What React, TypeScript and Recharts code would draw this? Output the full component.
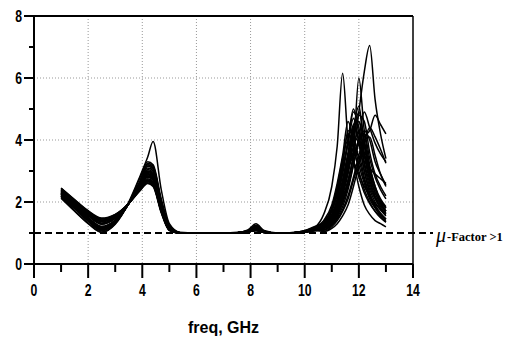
import React from 'react';
import { LineChart, Line, XAxis, YAxis, ReferenceLine, CartesianGrid } from 'recharts';

// frequency sample points (GHz)
const freq = [1, 1.5, 2, 2.5, 3, 3.5, 3.9, 4.2, 4.4, 4.7, 5.0, 5.4, 6.5, 7.5, 7.9, 8.2, 8.5, 9.0, 9.6, 10.0, 10.4,
  10.7, 11.0, 11.2, 11.4, 11.6, 11.8, 12.0, 12.2, 12.4, 12.6, 12.8, 13.0];

// Monte-Carlo runs of the mu stability factor
const runs: number[][] = [
  [2.15,1.72,1.32,1.03,1.3,2.0,2.8,3.45,3.95,2.4,1.3,1.02,1.0,1.02,1.1,1.3,1.08,1.0,1.02,1.08,1.22, 1.3,1.45,1.7,2.1,2.7,3.5,4.9,6.2,7.05,5.3,4.2,3.4],
  [2.2,1.8,1.4,1.1,1.35,1.95,2.6,3.2,3.1,2.0,1.2,1.01,1.0,1.01,1.06,1.2,1.05,1.0,1.01,1.06,1.2, 1.6,2.5,3.8,6.15,4.0,3.3,2.9,2.5,2.2,1.95,1.75,1.6],
  [2.3,1.9,1.5,1.2,1.4,1.95,2.5,2.95,2.85,1.9,1.15,1.0,1.0,1.01,1.05,1.15,1.04,1.0,1.01,1.04,1.12, 1.15,1.3,1.6,2.0,2.6,3.6,6.0,4.3,3.2,2.5,2.0,1.7],
  [2.35,1.98,1.6,1.32,1.5,1.95,2.45,2.8,2.7,1.8,1.12,1.0,1.0,1.0,1.04,1.12,1.03,1.0,1.0,1.03,1.1, 1.1,1.25,1.45,1.75,2.2,2.8,3.5,4.1,4.3,4.8,4.5,4.2],
  [2.45,2.08,1.72,1.48,1.6,1.95,2.35,2.6,2.5,1.65,1.08,1.0,1.0,1.0,1.03,1.08,1.02,1.0,1.0,1.03,1.08, 1.1,1.25,1.5,1.85,2.4,3.2,4.1,4.9,4.4,3.9,3.55,3.3],
  [2.25,1.85,1.45,1.15,1.38,1.95,2.55,3.05,2.95,1.95,1.18,1.0,1.0,1.01,1.05,1.18,1.04,1.0,1.01,1.05,1.13, 1.3,1.7,2.2,3.0,4.0,5.0,4.2,3.2,2.5,2.1,1.8,1.6],
  [2.4,2.02,1.65,1.4,1.55,1.96,2.4,2.7,2.6,1.7,1.1,1.0,1.0,1.0,1.03,1.1,1.02,1.0,1.0,1.03,1.1, 1.25,1.6,2.0,2.7,3.6,4.5,4.6,3.5,2.7,2.2,1.9,1.7],
  [2.18,1.78,1.38,1.08,1.33,1.95,2.62,3.1,3.0,2.0,1.2,1.01,1.0,1.01,1.06,1.22,1.05,1.0,1.01,1.05,1.15, 1.2,1.5,1.9,2.5,3.3,4.1,3.9,3.0,2.3,1.9,1.65,1.45],
  [2.28,1.88,1.48,1.18,1.4,1.96,2.52,2.9,2.8,1.85,1.15,1.0,1.0,1.01,1.05,1.14,1.04,1.0,1.01,1.05,1.15, 1.35,1.8,2.4,3.3,4.2,3.8,3.0,2.4,2.0,1.7,1.5,1.35],
  [2.33,1.95,1.58,1.3,1.48,1.95,2.48,2.85,2.75,1.8,1.12,1.0,1.0,1.0,1.04,1.1,1.03,1.0,1.0,1.03,1.1, 1.2,1.45,1.8,2.3,3.0,3.8,4.3,3.6,2.8,2.3,2.0,1.8],
  [2.42,2.05,1.7,1.45,1.58,1.95,2.38,2.65,2.55,1.7,1.1,1.0,1.0,1.0,1.03,1.08,1.02,1.0,1.0,1.03,1.08, 1.15,1.4,1.7,2.2,2.9,3.6,3.5,2.8,2.2,1.85,1.6,1.45],
  [2.22,1.82,1.42,1.12,1.36,1.95,2.58,3.15,3.05,2.0,1.2,1.01,1.0,1.01,1.06,1.2,1.05,1.0,1.01,1.05,1.15, 1.3,1.7,2.3,3.1,3.9,4.7,3.9,3.0,2.4,2.0,1.75,1.55],
  [2.38,2.0,1.62,1.38,1.53,1.96,2.42,2.72,2.62,1.72,1.1,1.0,1.0,1.0,1.03,1.09,1.02,1.0,1.0,1.03,1.1, 1.1,1.35,1.65,2.1,2.7,3.4,4.0,4.2,3.4,2.8,2.4,2.1],
  [2.12,1.7,1.3,1.02,1.28,1.97,2.75,3.3,3.2,2.1,1.25,1.02,1.0,1.02,1.08,1.25,1.06,1.0,1.02,1.07,1.18, 1.2,1.5,1.9,2.6,3.5,4.4,5.1,3.8,2.9,2.3,1.95,1.7],
  [2.3,1.92,1.55,1.28,1.47,1.95,2.5,2.88,2.78,1.85,1.14,1.0,1.0,1.0,1.04,1.12,1.03,1.0,1.0,1.04,1.14, 1.25,1.55,2.0,2.7,3.4,3.3,2.8,2.3,1.95,1.7,1.5,1.35],
  [2.26,1.86,1.46,1.16,1.39,1.95,2.54,3.0,2.9,1.9,1.16,1.0,1.0,1.01,1.05,1.16,1.04,1.0,1.01,1.04,1.12, 1.15,1.4,1.75,2.3,3.1,4.0,4.8,4.6,3.6,2.9,2.5,2.2],
  [2.44,2.06,1.7,1.46,1.59,1.95,2.36,2.62,2.52,1.68,1.09,1.0,1.0,1.0,1.03,1.08,1.02,1.0,1.0,1.03,1.08, 1.1,1.3,1.55,1.95,2.5,3.2,3.9,4.3,4.0,3.3,2.9,2.55],
  [2.2,1.8,1.4,1.09,1.34,1.95,2.6,3.25,3.15,2.05,1.22,1.01,1.0,1.01,1.07,1.24,1.06,1.0,1.01,1.06,1.2, 1.4,1.9,2.6,3.5,4.6,4.0,3.2,2.6,2.1,1.8,1.55,1.4],
  [2.36,1.98,1.6,1.36,1.52,1.96,2.44,2.75,2.65,1.75,1.11,1.0,1.0,1.0,1.03,1.1,1.02,1.0,1.0,1.03,1.1, 1.2,1.5,1.85,2.4,3.2,4.2,4.9,4.0,3.1,2.5,2.1,1.85],
  [2.24,1.84,1.44,1.14,1.37,1.95,2.56,3.0,2.9,1.92,1.17,1.0,1.0,1.01,1.05,1.15,1.04,1.0,1.01,1.04,1.12, 1.05,1.2,1.4,1.7,2.1,2.7,3.3,3.9,4.4,4.1,3.7,3.25],
  [2.32,1.94,1.56,1.3,1.49,1.95,2.47,2.82,2.72,1.8,1.12,1.0,1.0,1.0,1.04,1.1,1.03,1.0,1.0,1.03,1.08, 1.05,1.15,1.3,1.55,1.9,2.5,3.2,4.0,4.1,3.5,2.9,2.5],
  [2.28,1.9,1.5,1.22,1.42,1.95,2.5,2.92,2.82,1.88,1.15,1.0,1.0,1.01,1.05,1.13,1.04,1.0,1.01,1.05,1.16, 1.35,1.8,2.5,3.4,4.0,3.3,2.5,1.9,1.6,1.4,1.3,1.2],
  [2.4,2.03,1.67,1.42,1.56,1.95,2.4,2.68,2.58,1.7,1.1,1.0,1.0,1.0,1.03,1.08,1.02,1.0,1.0,1.03,1.1, 1.2,1.5,1.9,2.5,3.3,4.4,4.0,3.5,3.1,2.9,2.75,2.6],
  [2.27,1.87,1.47,1.17,1.4,1.95,2.53,2.98,2.88,1.9,1.16,1.0,1.0,1.01,1.05,1.12,1.04,1.0,1.01,1.05,1.14, 1.25,1.6,2.1,2.9,3.9,4.9,4.4,3.3,2.6,2.15,1.85,1.65],
  [2.34,1.96,1.58,1.31,1.49,1.95,2.47,2.84,2.74,1.82,1.13,1.0,1.0,1.0,1.04,1.1,1.03,1.0,1.0,1.03,1.1, 1.15,1.4,1.8,2.4,3.3,4.3,4.6,3.9,3.0,2.4,2.05,1.8],
  [2.19,1.79,1.39,1.07,1.32,1.96,2.65,3.2,3.1,2.02,1.21,1.01,1.0,1.01,1.06,1.18,1.05,1.0,1.01,1.06,1.17, 1.3,1.75,2.35,3.2,4.3,4.1,3.4,2.7,2.2,1.85,1.6,1.45],
];

const xTicks = [0, 1, 2, 3, 4, 5, 6, 7, 8, 9, 10, 11, 12, 13, 14];
const yTicks = [0, 1, 2, 3, 4, 5, 6, 7, 8];
const xGrid = [2, 4, 6, 8, 10, 12];
const yGrid = [2, 4, 6];
const muLevel = 1;
const xTitle = 'freq, GHz';
const muText = 'μ';
const muSuffix = '-Factor >1';

const data = freq.map((f, i) => {
  const row: Record<string, number> = { f };
  runs.forEach((r, j) => { row['r' + j] = r[i]; });
  return row;
});

const SANS = '"Liberation Sans", Arial, sans-serif';
const SERIF = '"Liberation Serif", "Times New Roman", serif';

const XTick = (props: any) => {
  const { x, y, payload } = props;
  const v = payload.value;
  const major = v % 2 === 0;
  return (
    <g>
      <line x1={x} x2={x} y1={y} y2={y + (major ? 14 : 8)} stroke="#000" strokeWidth={2} />
      {major && (
        <text transform={`translate(${x},${y + 32}) scale(0.72,1)`} textAnchor="middle" fontSize={17}
          fontWeight="bold" fontFamily={SANS} fill="#000">{v}</text>
      )}
    </g>
  );
};

const YTick = (props: any) => {
  const { x, y, payload } = props;
  const v = payload.value;
  const major = v % 2 === 0;
  return (
    <g>
      <line x1={x - (major ? 10 : 5)} x2={x} y1={y} y2={y} stroke="#000" strokeWidth={2} />
      {major && (
        <text transform={`translate(${x - 12},${y + 6}) scale(0.72,1)`} textAnchor="end" fontSize={17}
          fontWeight="bold" fontFamily={SANS} fill="#000">{v}</text>
      )}
    </g>
  );
};

const MuLine = (props: any) => {
  const { x1, y1, x2 } = props;
  return (
    <g>
      <line x1={x1} y1={y1} x2={x2 + 20} y2={y1} stroke="#000" strokeWidth={2} strokeDasharray="7 4" />
      <text x={x2 + 23} y={y1 + 9} fontFamily={SERIF} fontStyle="italic" fontSize={20} fill="#000">{muText}</text>
      <text x={x2 + 34} y={y1 + 8} fontFamily={SERIF} fontWeight="bold" fontSize={12.5} fill="#000">{muSuffix}</text>
    </g>
  );
};

const XTitle = (props: any) => {
  const { viewBox } = props;
  const cx = viewBox.x + viewBox.width / 2;
  return (
    <text x={cx} y={333} textAnchor="middle" fontSize={16} fontWeight="bold" fontFamily={SANS} fill="#000">{xTitle}</text>
  );
};

export default function App() {
  return (
    <div style={{ position: 'absolute', left: 0, top: 0, background: '#fff' }}>
      <LineChart width={513} height={337} data={data} margin={{ top: 16, right: 100, bottom: 0, left: 0 }}>
        <CartesianGrid horizontalValues={yGrid} verticalValues={xGrid} stroke="#999" strokeWidth={1}
          strokeDasharray="1 2" />
        <XAxis type="number" dataKey="f" domain={[0, 14]} ticks={xTicks} interval={0} height={73}
          tickSize={0} tickMargin={0} tickLine={false} tick={(p: any) => <XTick {...p} />}
          axisLine={{ stroke: '#000', strokeWidth: 2 }} label={(p: any) => <XTitle {...p} />} />
        <YAxis type="number" domain={[0, 8]} ticks={yTicks} interval={0} width={34}
          tickSize={0} tickMargin={0} tickLine={false} tick={(p: any) => <YTick {...p} />}
          axisLine={{ stroke: '#000', strokeWidth: 2 }} />
        {runs.map((_, j) => (
          <Line key={'r' + j} dataKey={'r' + j} type="monotone" stroke="#000" strokeWidth={1.5}
            dot={false} activeDot={false} isAnimationActive={false} />
        ))}
        <ReferenceLine y={muLevel} shape={(p: any) => <MuLine {...p} />} />
        <ReferenceLine y={8} stroke="#000" strokeWidth={2} />
        <ReferenceLine x={14} stroke="#000" strokeWidth={1.5} />
      </LineChart>
    </div>
  );
}
